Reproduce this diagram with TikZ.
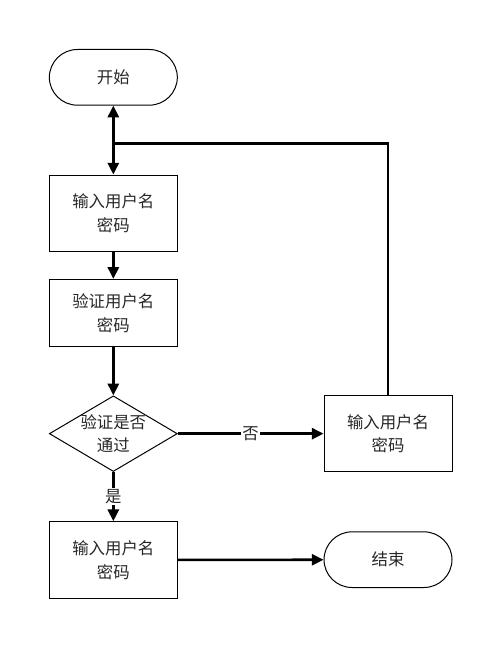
\documentclass[tikz,border=0pt]{standalone}
\usepackage{fontspec}
\newfontfamily\cjk{Noto Sans CJK SC}
\usetikzlibrary{arrows.meta,shapes.geometric}
\tikzset{
    txt/.style={align=center, text=black!85, font=\cjk\fontsize{14}{20}\selectfont},
    box/.style={txt, draw, line width=0.85pt, minimum width=3.84cm, minimum height=2.30cm},
    terminal/.style={box, minimum height=1.67cm, rounded corners=0.84cm},
    decision/.style={draw, line width=0.85pt, shape=diamond, inner sep=0pt, minimum width=3.84cm, minimum height=2.27cm},
    flow/.style={line width=2.2pt, -{Triangle[length=10pt,width=9.5pt]}},
    link/.style={line width=2.2pt}
}
\begin{document}
\begin{tikzpicture}
\useasboundingbox (0,0) rectangle (15,-19.38);
\node[terminal] (start) at (3.40,-2.32) {开始};
\node[box] (input) at (3.40,-6.40) {输入用户名\\密码};
\node[box, minimum height=2.02cm] (verify) at (3.40,-9.39) {验证用户名\\密码};
\node[decision] (check) at (3.40,-13.01) {};
\node[txt] (checktext) at (check) {验证是否\\通过};
\node[box, minimum height=2.28cm] (retry) at (11.64,-13.01) {输入用户名\\密码};
\node[box] (login) at (3.40,-16.80) {输入用户名\\密码};
\node[terminal] (stop) at (11.64,-16.79) {结束};
\coordinate (join) at (3.40,-4.30);
\draw[flow, {Triangle[length=10pt,width=9.5pt]}-{Triangle[length=10pt,width=9.5pt]}] (start) -- (input);
\draw[flow] (input) -- (verify);
\draw[flow] (verify) -- (check);
\draw[flow] (check) -- (retry) node[txt, pos=0.5, fill=white, inner sep=1pt]{否};
\draw[link] (retry) |- (join);
\draw[flow] (check) -- (login) node[txt, pos=0.5, fill=white, inner sep=1pt]{是};
\draw[flow] (login) -- (stop);
\end{tikzpicture}
\end{document}
